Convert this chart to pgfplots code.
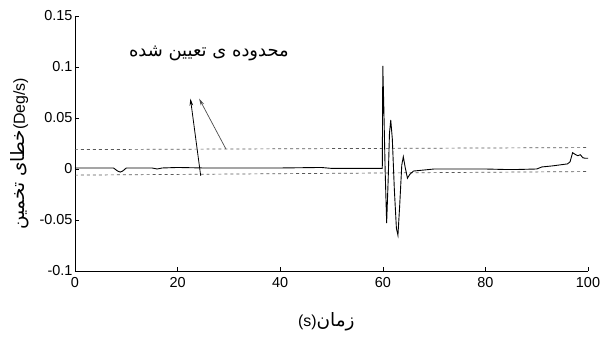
\documentclass[border=0pt]{standalone}
\usepackage{fontspec}
\setmainfont{Liberation Sans}
\newfontfamily\arabicfont[Script=Arabic]{DejaVu Sans}
\TeXXeTstate=1
\usepackage{pgfplots}
\pgfplotsset{compat=1.18}
\usetikzlibrary{arrows.meta}
\begin{document}
\begin{tikzpicture}
\useasboundingbox (-75bp,-67bp) rectangle (534bp,271bp);
\begin{axis}[
  at={(0,0)}, anchor=south west,
  scale only axis, width=513bp, height=255bp,
  xmin=0, xmax=100, ymin=-0.1, ymax=0.15,
  axis x line*=bottom, axis y line*=left,
  axis line style={-, black, line width=0.5pt},
  tick align=inside, major tick length=4bp,
  tick style={black, line width=0.5pt},
  xtick={0,20,40,60,80,100},
  ytick={-0.1,-0.05,0,0.05,0.1,0.15},
  yticklabels={-0.1,-0.05,0,0.05,0.1,0.15},
  /pgf/number format/assume math mode=true,
  ticklabel style={font=\fontsize{14.5}{16}\selectfont},
  xticklabel style={yshift=-3bp},
  yticklabel style={xshift=1bp},
  xlabel={\fontsize{16}{18}\selectfont(s)\arabicfont\fontsize{18.5}{20}\selectfont\beginR زمان\endR},
  ylabel={\arabicfont\fontsize{18.5}{20}\selectfont\beginR خطای تخمین\endR\rmfamily\fontsize{16}{18}\selectfont(Deg/s)},
  xlabel style={at={(axis description cs:0.49,-0.2)}, anchor=center},
  ylabel style={at={(axis description cs:-0.107,0.46)}, anchor=center},
  clip=false,
]
% boundaries
\addplot[gray!70!black, dashed, line width=0.7pt] coordinates {(0,0.019) (100,0.021)};
\addplot[gray!70!black, dashed, line width=0.7pt] coordinates {(0,-0.006) (100,-0.0025)};
% signal
\addplot[black, line width=0.9pt] coordinates {
(0,0.001) (7.5,0.001) (8.3,-0.002) (8.8,-0.003) (9.3,-0.002) (10,0.001) (15,0.001) (16,0.0)
(17,0.001) (20,0.0015) (25,0.001) (30,0.001) (40,0.001) (48,0.0015) (50,0.0006) (59.9,0.0006)
(60.0,0.101) (60.2,0.06) (60.45,0.0) (60.75,-0.053) (61.05,-0.01) (61.3,0.035) (61.55,0.048)
(61.85,0.03) (62.25,-0.02) (62.65,-0.058) (62.95,-0.065) (63.3,-0.035) (63.7,0.004) (64.0,0.012)
(64.35,0.002) (64.8,-0.009) (65.3,-0.005) (66,-0.002) (68,-0.001) (70,0.0) (80,0.0)
(84,-0.0005) (86,-0.0005) (90,0.0) (91,0.002) (93,0.003) (96,0.005) (96.5,0.007) (97,0.016)
(97.6,0.014) (98,0.013) (98.5,0.014) (99,0.011) (99.5,0.0105) (100,0.0105)
};
% arrows
\addplot[black, line width=0.8pt, -{Stealth[length=7bp,width=3.5bp]}] coordinates {(24.5,-0.0066) (22.5,0.069)};
\addplot[gray!60!black, line width=0.7pt, -{Stealth[length=7bp,width=3.5bp]}] coordinates {(29.4,0.0198) (24.2,0.069)};
\node[font=\fontsize{18}{20}\selectfont] at (axis cs:26.1,0.113) {\arabicfont\beginR محدوده ی تعیین شده\endR};
\end{axis}
\end{tikzpicture}
\end{document}
